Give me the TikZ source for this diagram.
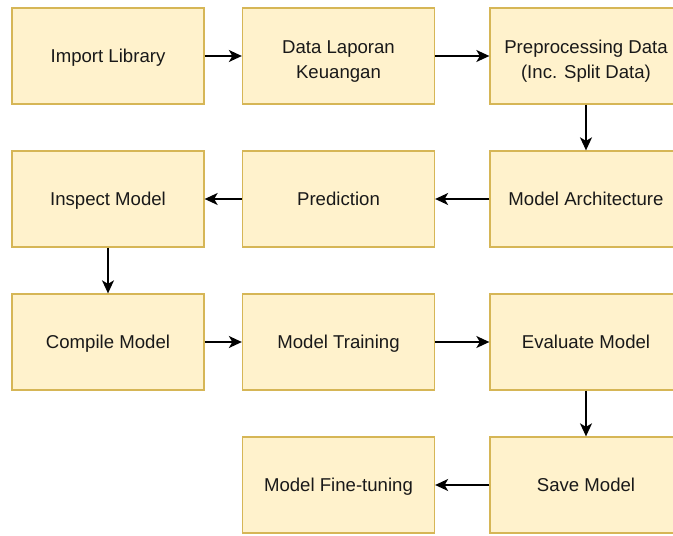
\documentclass[tikz,border=0pt]{standalone}
\usepackage{fontspec}
\setmainfont{Liberation Sans}
\usetikzlibrary{arrows.meta}
\definecolor{boxfill}{HTML}{FFF2CC}
\definecolor{boxdraw}{HTML}{D6B656}
\newcommand{\mystrut}{\vrule height 17pt depth 3.8pt width 0pt\relax}
\newcommand{\mytopstrut}{\vrule height 23pt depth 0pt width 0pt\relax}
\tikzset{
  stepbox/.style={draw=boxdraw, fill=boxfill, line width=1.3pt, minimum width=192pt, minimum height=96pt, inner sep=0pt, align=center, font=\fontsize{18.6}{25}\selectfont, text=black!90,
    execute at begin node=\mystrut, execute at end node=\mystrut},
  flow/.style={line width=1.4pt, -{Stealth[length=13pt,width=12pt,inset=3.5pt]}}
}
\begin{document}
\begin{tikzpicture}[x=1pt,y=-1pt]
\useasboundingbox (0,0) rectangle (673,536);
\clip (0,0) rectangle (673,536);
\node[stepbox] (imp) at (108,56) {Import Library};
\node[stepbox] (data) at (338.5,56) {\mytopstrut Data Laporan\\Keuangan\mystrut};
\node[stepbox] (pre) at (586,56) {\mytopstrut Preprocessing Data\\(Inc. Split Data)\mystrut};
\node[stepbox] (insp) at (108,199) {Inspect Model};
\node[stepbox] (pred) at (338.5,199) {Prediction};
\node[stepbox] (arch) at (586,199) {Model Architecture};
\node[stepbox] (comp) at (108,342) {Compile Model};
\node[stepbox] (train) at (338.5,342) {Model Training};
\node[stepbox] (eval) at (586,342) {Evaluate Model};
\node[stepbox] (fine) at (338.5,485) {Model Fine-tuning};
\node[stepbox] (save) at (586,485) {Save Model};
\draw[flow] (imp) -- (data);
\draw[flow] (data) -- (pre);
\draw[flow] (pre) -- (arch);
\draw[flow] (arch) -- (pred);
\draw[flow] (pred) -- (insp);
\draw[flow] (insp) -- (comp);
\draw[flow] (comp) -- (train);
\draw[flow] (train) -- (eval);
\draw[flow] (eval) -- (save);
\draw[flow] (save) -- (fine);
\end{tikzpicture}
\end{document}
